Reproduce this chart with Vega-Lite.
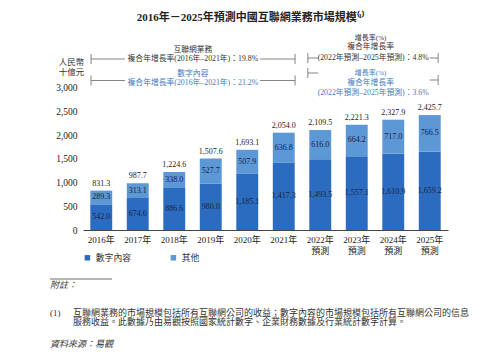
{
  "$schema": "https://vega.github.io/schema/vega-lite/v6.json",
  "width": 365,
  "height": 199,
  "autosize": {"type": "none"},
  "padding": {"left": 83, "top": 31, "right": 51, "bottom": 128},
  "title": {
    "text": "2016年－2025年預測中國互聯網業務市場規模⁽¹⁾",
    "fontSize": 11,
    "fontWeight": "bold",
    "color": "#222",
    "anchor": "middle",
    "frame": "group",
    "dx": -15,
    "offset": 8
  },
  "config": {
    "view": {"stroke": null},
    "font": "Liberation Serif, Noto Sans CJK TC",
    "text": {"font": "Liberation Serif, Noto Sans CJK TC"}
  },
  "datasets": {
    "segments": [
      {"year": "2016年", "series": "數字內容", "rank": 0, "value": 542.0},
      {"year": "2016年", "series": "其他", "rank": 1, "value": 289.3},
      {"year": "2017年", "series": "數字內容", "rank": 0, "value": 674.6},
      {"year": "2017年", "series": "其他", "rank": 1, "value": 313.1},
      {"year": "2018年", "series": "數字內容", "rank": 0, "value": 886.6},
      {"year": "2018年", "series": "其他", "rank": 1, "value": 338.0},
      {"year": "2019年", "series": "數字內容", "rank": 0, "value": 980.0},
      {"year": "2019年", "series": "其他", "rank": 1, "value": 527.7},
      {"year": "2020年", "series": "數字內容", "rank": 0, "value": 1185.1},
      {"year": "2020年", "series": "其他", "rank": 1, "value": 507.9},
      {"year": "2021年", "series": "數字內容", "rank": 0, "value": 1417.3},
      {"year": "2021年", "series": "其他", "rank": 1, "value": 636.8},
      {"year": "2022年 預測", "series": "數字內容", "rank": 0, "value": 1493.5},
      {"year": "2022年 預測", "series": "其他", "rank": 1, "value": 616.0},
      {"year": "2023年 預測", "series": "數字內容", "rank": 0, "value": 1557.1},
      {"year": "2023年 預測", "series": "其他", "rank": 1, "value": 664.2},
      {"year": "2024年 預測", "series": "數字內容", "rank": 0, "value": 1610.9},
      {"year": "2024年 預測", "series": "其他", "rank": 1, "value": 717.0},
      {"year": "2025年 預測", "series": "數字內容", "rank": 0, "value": 1659.2},
      {"year": "2025年 預測", "series": "其他", "rank": 1, "value": 766.5}
    ],
    "totals": [
      {"year": "2016年", "total": 831.3},
      {"year": "2017年", "total": 987.7},
      {"year": "2018年", "total": 1224.6},
      {"year": "2019年", "total": 1507.6},
      {"year": "2020年", "total": 1693.1},
      {"year": "2021年", "total": 2054.0},
      {"year": "2022年 預測", "total": 2109.5},
      {"year": "2023年 預測", "total": 2221.3},
      {"year": "2024年 預測", "total": 2327.9},
      {"year": "2025年 預測", "total": 2425.7}
    ]
  },
  "layer": [
    {
      "layer": [
        {
          "data": {"name": "segments"},
          "transform": [
            {"stack": "value", "groupby": ["year"], "sort": [{"field": "rank"}], "as": ["v0", "v1"]},
            {"calculate": "(datum.v0 + datum.v1) / 2", "as": "mid"}
          ],
          "layer": [
            {
              "mark": {"type": "bar"},
              "encoding": {
                "x": {
                  "field": "year", "type": "nominal", "title": null,
                  "scale": {"paddingInner": 0.4, "paddingOuter": 0.2},
                  "axis": {
                    "labelAngle": 0, "ticks": false, "domainColor": "#444", "domainWidth": 1.2,
                    "labelFontSize": 9, "labelColor": "#222", "labelPadding": 5, "labelLineHeight": 11,
                    "labelExpr": "split(datum.label, ' ')"
                  }
                },
                "y": {
                  "field": "v0", "type": "quantitative",
                  "scale": {"domain": [0, 4200], "nice": false},
                  "axis": {
                    "values": [0, 500, 1000, 1500, 2000, 2500, 3000], "tickCount": 10, "format": ",d",
                    "domain": false, "ticks": false, "grid": false, "labelOverlap": false,
                    "labelPadding": 6, "labelFontSize": 9.5, "labelColor": "#222",
                    "title": ["人民幣", "十億元"], "titleAngle": 0, "titleX": -12, "titleY": 26,
                    "titleAlign": "center", "titleBaseline": "top", "titleFontSize": 8.5,
                    "titleFontWeight": "normal", "titleLineHeight": 10, "titleColor": "#333"
                  }
                },
                "y2": {"field": "v1"},
                "color": {
                  "field": "series", "type": "nominal",
                  "scale": {"domain": ["數字內容", "其他"], "range": ["#2b6cc0", "#5c97d6"]},
                  "legend": {
                    "orient": "bottom", "direction": "horizontal", "title": null,
                    "symbolType": "square", "symbolSize": 30, "labelFontSize": 8.8,
                    "labelColor": "#333", "columnPadding": 38, "offset": -2
                  }
                }
              }
            },
            {
              "mark": {"type": "text", "fontSize": 8, "color": "#1a2440", "baseline": "middle"},
              "encoding": {
                "x": {"field": "year", "type": "nominal"},
                "y": {"field": "mid", "type": "quantitative"},
                "text": {"field": "value", "format": ",.1f"}
              }
            }
          ]
        },
        {
          "data": {"name": "totals"},
          "mark": {"type": "text", "fontSize": 8, "color": "#222", "baseline": "bottom", "dy": -3},
          "encoding": {
            "x": {"field": "year", "type": "nominal"},
            "y": {"field": "total", "type": "quantitative"},
            "text": {"field": "total", "format": ",.1f"}
          }
        }
      ]
    },
    {
      "data": {"values": [{}]},
      "encoding": {
        "x": {"type": "quantitative", "scale": {"domain": [0, 10], "nice": false, "zero": false}, "axis": null},
        "y": {"type": "quantitative", "scale": {"domain": [0, 19.9], "nice": false, "zero": false, "reverse": true}, "axis": null}
      },
      "layer": [
        {"mark": {"type": "text", "fontSize": 7.8, "color": "#333"}, "encoding": {"x": {"datum": 3.01, "type": "quantitative", "scale": {"domain": [0, 10], "nice": false}, "axis": null}, "y": {"datum": 1.9, "type": "quantitative", "scale": {"domain": [0, 19.9], "nice": false, "reverse": true}, "axis": null}, "text": {"value": "互聯網業務"}}},
        {"mark": {"type": "text", "fontSize": 7.8, "color": "#333"}, "encoding": {"x": {"datum": 3.01, "type": "quantitative"}, "y": {"datum": 2.8, "type": "quantitative"}, "text": {"value": "複合年增長率(2016年–2021年)：19.8%"}}},
        {"mark": {"type": "text", "fontSize": 7.8, "color": "#3f7ac4"}, "encoding": {"x": {"datum": 3.01, "type": "quantitative"}, "y": {"datum": 4.3, "type": "quantitative"}, "text": {"value": "數字內容"}}},
        {"mark": {"type": "text", "fontSize": 7.8, "color": "#3f7ac4"}, "encoding": {"x": {"datum": 3.01, "type": "quantitative"}, "y": {"datum": 5.2, "type": "quantitative"}, "text": {"value": "複合年增長率(2016年–2021年)：21.2%"}}},
        {"mark": {"type": "text", "fontSize": 7, "color": "#333"}, "encoding": {"x": {"datum": 7.88, "type": "quantitative"}, "y": {"datum": 0.7, "type": "quantitative"}, "text": {"value": "增長率(%)"}}},
        {"mark": {"type": "text", "fontSize": 7.8, "color": "#333"}, "encoding": {"x": {"datum": 7.88, "type": "quantitative"}, "y": {"datum": 1.6, "type": "quantitative"}, "text": {"value": "複合年增長率"}}},
        {"mark": {"type": "text", "fontSize": 7.8, "color": "#333"}, "encoding": {"x": {"datum": 7.95, "type": "quantitative"}, "y": {"datum": 2.7, "type": "quantitative"}, "text": {"value": "(2022年預測–2025年預測)：4.8%"}}},
        {"mark": {"type": "text", "fontSize": 7, "color": "#3f7ac4"}, "encoding": {"x": {"datum": 7.88, "type": "quantitative"}, "y": {"datum": 4.2, "type": "quantitative"}, "text": {"value": "增長率(%)"}}},
        {"mark": {"type": "text", "fontSize": 7.8, "color": "#3f7ac4"}, "encoding": {"x": {"datum": 7.88, "type": "quantitative"}, "y": {"datum": 5.2, "type": "quantitative"}, "text": {"value": "複合年增長率"}}},
        {"mark": {"type": "text", "fontSize": 7.8, "color": "#3f7ac4"}, "encoding": {"x": {"datum": 7.95, "type": "quantitative"}, "y": {"datum": 6.2, "type": "quantitative"}, "text": {"value": "(2022年預測–2025年預測)：3.6%"}}},

        {"mark": {"type": "rule", "color": "#666", "strokeWidth": 0.8}, "encoding": {"x": {"datum": 0.22, "type": "quantitative"}, "y": {"datum": 2.3, "type": "quantitative"}, "y2": {"datum": 3.3}}},
        {"mark": {"type": "rule", "color": "#666", "strokeWidth": 0.8}, "encoding": {"x": {"datum": 0.22, "type": "quantitative"}, "x2": {"datum": 1.15}, "y": {"datum": 2.8, "type": "quantitative"}}},
        {"mark": {"type": "rule", "color": "#666", "strokeWidth": 0.8}, "encoding": {"x": {"datum": 4.85, "type": "quantitative"}, "x2": {"datum": 5.81}, "y": {"datum": 2.8, "type": "quantitative"}}},
        {"mark": {"type": "rule", "color": "#666", "strokeWidth": 0.8}, "encoding": {"x": {"datum": 5.81, "type": "quantitative"}, "y": {"datum": 2.3, "type": "quantitative"}, "y2": {"datum": 3.3}}},

        {"mark": {"type": "rule", "color": "#666", "strokeWidth": 0.8}, "encoding": {"x": {"datum": 0.22, "type": "quantitative"}, "y": {"datum": 4.45, "type": "quantitative"}, "y2": {"datum": 5.45}}},
        {"mark": {"type": "rule", "color": "#666", "strokeWidth": 0.8}, "encoding": {"x": {"datum": 0.22, "type": "quantitative"}, "x2": {"datum": 1.15}, "y": {"datum": 4.95, "type": "quantitative"}}},
        {"mark": {"type": "rule", "color": "#666", "strokeWidth": 0.8}, "encoding": {"x": {"datum": 4.85, "type": "quantitative"}, "x2": {"datum": 5.81}, "y": {"datum": 4.95, "type": "quantitative"}}},
        {"mark": {"type": "rule", "color": "#666", "strokeWidth": 0.8}, "encoding": {"x": {"datum": 5.81, "type": "quantitative"}, "y": {"datum": 4.45, "type": "quantitative"}, "y2": {"datum": 5.45}}},

        {"mark": {"type": "rule", "color": "#666", "strokeWidth": 0.8}, "encoding": {"x": {"datum": 6.16, "type": "quantitative"}, "y": {"datum": 2.2, "type": "quantitative"}, "y2": {"datum": 3.2}}},
        {"mark": {"type": "rule", "color": "#666", "strokeWidth": 0.8}, "encoding": {"x": {"datum": 6.16, "type": "quantitative"}, "x2": {"datum": 6.44}, "y": {"datum": 2.7, "type": "quantitative"}}},
        {"mark": {"type": "rule", "color": "#666", "strokeWidth": 0.8}, "encoding": {"x": {"datum": 9.5, "type": "quantitative"}, "x2": {"datum": 9.73}, "y": {"datum": 2.7, "type": "quantitative"}}},
        {"mark": {"type": "rule", "color": "#666", "strokeWidth": 0.8}, "encoding": {"x": {"datum": 9.73, "type": "quantitative"}, "y": {"datum": 2.2, "type": "quantitative"}, "y2": {"datum": 3.2}}},

        {"mark": {"type": "rule", "color": "#666", "strokeWidth": 0.8}, "encoding": {"x": {"datum": 6.16, "type": "quantitative"}, "y": {"datum": 3.7, "type": "quantitative"}, "y2": {"datum": 4.7}}},
        {"mark": {"type": "rule", "color": "#666", "strokeWidth": 0.8}, "encoding": {"x": {"datum": 6.16, "type": "quantitative"}, "x2": {"datum": 6.44}, "y": {"datum": 4.2, "type": "quantitative"}}},
        {"mark": {"type": "rule", "color": "#666", "strokeWidth": 0.8}, "encoding": {"x": {"datum": 9.5, "type": "quantitative"}, "x2": {"datum": 9.73}, "y": {"datum": 4.9, "type": "quantitative"}}},
        {"mark": {"type": "rule", "color": "#666", "strokeWidth": 0.8}, "encoding": {"x": {"datum": 9.73, "type": "quantitative"}, "y": {"datum": 4.4, "type": "quantitative"}, "y2": {"datum": 5.4}}},

        {"mark": {"type": "rule", "color": "#444", "strokeWidth": 0.8}, "encoding": {"x": {"datum": -0.904, "type": "quantitative"}, "x2": {"datum": 0.795}, "y": {"datum": 24.8, "type": "quantitative"}}},
        {"mark": {"type": "text", "fontSize": 9, "color": "#333", "align": "left", "fontStyle": "italic"}, "encoding": {"x": {"datum": -0.904, "type": "quantitative"}, "y": {"datum": 25.4, "type": "quantitative"}, "text": {"value": "附註："}}},
        {"mark": {"type": "text", "fontSize": 9, "color": "#333", "align": "left"}, "encoding": {"x": {"datum": -0.904, "type": "quantitative"}, "y": {"datum": 28.2, "type": "quantitative"}, "text": {"value": "(1)"}}},
        {"mark": {"type": "text", "fontSize": 9, "color": "#333", "align": "left"}, "encoding": {"x": {"datum": -0.274, "type": "quantitative"}, "y": {"datum": 28.2, "type": "quantitative"}, "text": {"value": "互聯網業務的市場規模包括所有互聯網公司的收益；數字內容的市場規模包括所有互聯網公司的信息"}}},
        {"mark": {"type": "text", "fontSize": 9, "color": "#333", "align": "left"}, "encoding": {"x": {"datum": -0.274, "type": "quantitative"}, "y": {"datum": 29.1, "type": "quantitative"}, "text": {"value": "服務收益。此數據乃由易觀按照國家統計數字、企業財務數據及行業統計數字計算。"}}},
        {"mark": {"type": "text", "fontSize": 9, "color": "#333", "align": "left", "fontStyle": "italic"}, "encoding": {"x": {"datum": -0.904, "type": "quantitative"}, "y": {"datum": 31.3, "type": "quantitative"}, "text": {"value": "資料來源：易觀"}}}
      ]
    }
  ],
  "resolve": {"scale": {"x": "independent", "y": "independent"}}
}
